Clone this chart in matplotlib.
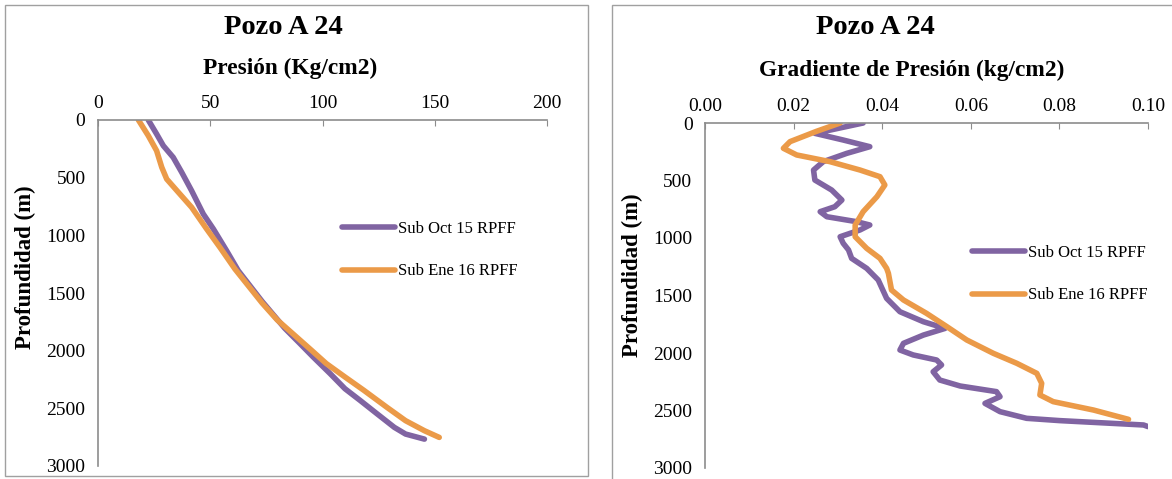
import matplotlib.pyplot as plt
from matplotlib.patches import Rectangle

# --- data ---
# left panel: pressure (kg/cm2) vs depth (m)
oct_depth = [0, 121, 223, 324, 454, 613, 815, 945, 1134, 1307, 1573, 1806, 1937,
             2054, 2199, 2330, 2432, 2549, 2665, 2723, 2767]
oct_pres = [22.4, 26.1, 29.1, 33.5, 37.3, 41.7, 46.9, 51.4, 57.3, 62.5, 73.1, 83.2,
            89.9, 95.8, 103.4, 110.0, 116.8, 124.4, 132.0, 137.0, 145.4]

ene_depth = [0, 136, 266, 410, 512, 627, 757, 945, 1104, 1292, 1587, 1733, 1850,
             1995, 2112, 2228, 2345, 2490, 2607, 2694, 2752]
ene_pres = [18.0, 22.4, 26.1, 28.4, 30.6, 35.8, 41.7, 48.4, 54.3, 61.0, 73.1, 79.8,
            86.6, 95.0, 101.7, 110.0, 118.5, 128.6, 137.0, 145.4, 152.0]

# right panel: pressure gradient (kg/cm2) vs depth (m)
oct_gdepth = [0, 90, 148, 206, 264, 336, 409, 496, 583, 670, 728, 771, 815, 858,
              887, 930, 989, 1046, 1104, 1177, 1264, 1365, 1525, 1641, 1728, 1786,
              1844, 1916, 1974, 2017, 2061, 2104, 2163, 2235, 2287, 2336, 2380,
              2438, 2510, 2568, 2588, 2626, 2640]
oct_grad = [0.0357, 0.0248, 0.0312, 0.0372, 0.0320, 0.0267, 0.0245, 0.0248,
            0.0286, 0.0309, 0.0293, 0.0260, 0.0275, 0.0342, 0.0372, 0.0350,
            0.0305, 0.0312, 0.0324, 0.0331, 0.0365, 0.0391, 0.0410, 0.0440,
            0.0493, 0.0542, 0.0493, 0.0448, 0.0440, 0.0470, 0.0523, 0.0534,
            0.0515, 0.0530, 0.0576, 0.0658, 0.0666, 0.0632, 0.0666, 0.0726,
            0.0801, 0.0990, 0.1000]

ene_gdepth = [0, 72, 162, 220, 278, 336, 409, 467, 539, 641, 771, 887, 989, 1090,
              1177, 1264, 1307, 1452, 1539, 1655, 1771, 1887, 2003, 2090, 2177,
              2264, 2365, 2423, 2496, 2577]
ene_grad = [0.0305, 0.0252, 0.0192, 0.0177, 0.0207, 0.0282, 0.0350, 0.0395,
            0.0406, 0.0388, 0.0357, 0.0339, 0.0339, 0.0365, 0.0395, 0.0410,
            0.0414, 0.0421, 0.0448, 0.0500, 0.0546, 0.0591, 0.0651, 0.0704,
            0.0749, 0.0760, 0.0756, 0.0786, 0.0877, 0.0956]

labels = ["Sub Oct 15 RPFF", "Sub Ene 16 RPFF"]
purple = "#8064A2"
orange = "#EB9A48"
grey = "#8C8C8C"

plt.rcParams['font.family'] = ['Liberation Serif', 'DejaVu Serif']

W, H = 1172, 479
fig = plt.figure(figsize=(W / 100, H / 100), dpi=100)


def px_box(x0, y0, x1, y1):
	# pixel box (top-left origin) -> figure fraction rect
	return [x0 / W, 1 - y1 / H, (x1 - x0) / W, (y1 - y0) / H]


def fig_text(x, y, s, **kw):
	fig.text(x / W, 1 - y / H, s, ha='center', va='center', fontweight='bold', **kw)


def style_axes(ax, xticks, xfmt):
	ax.set_ylim(3000, 0)
	ax.set_yticks(range(0, 3001, 500))
	ax.set_xticks(xticks)
	ax.set_xticklabels([xfmt.format(t) for t in xticks])
	ax.xaxis.tick_top()
	for s in ['right', 'bottom']:
		ax.spines[s].set_visible(False)
	for s in ['left', 'top']:
		ax.spines[s].set_color(grey)
		ax.spines[s].set_linewidth(1.2)
	ax.tick_params(axis='x', direction='in', length=4, color=grey, labelsize=14, pad=6)
	ax.tick_params(axis='y', length=0, labelsize=14, pad=9)


# panel borders
fig.patches.append(Rectangle((5 / W, 3 / H), 583 / W, 471 / H, transform=fig.transFigure,
                             fill=False, edgecolor='#A0A0A0', lw=1))
fig.patches.append(Rectangle((612 / W, -0.01), 0.5, 1 - 5 / H + 0.01, transform=fig.transFigure,
                             fill=False, edgecolor='#A0A0A0', lw=1))

leg_kw = dict(bbox_transform=fig.transFigure, loc='center left', frameon=False,
              fontsize=12, handlelength=3.2, handletextpad=0.15, labelspacing=1.6,
              borderpad=0, borderaxespad=0)
line_kw = dict(lw=4.0, solid_capstyle='round', solid_joinstyle='round')

# left panel
ax1 = fig.add_axes(px_box(98, 120, 547, 466))
ax1.plot(oct_pres, oct_depth, color=purple, label=labels[0], **line_kw)
ax1.plot(ene_pres, ene_depth, color=orange, label=labels[1], **line_kw)
ax1.set_xlim(0, 200)
style_axes(ax1, [0, 50, 100, 150, 200], "{:d}")
ax1.legend(bbox_to_anchor=(342 / W, 1 - 250 / H), **leg_kw)
fig_text(283, 27, "Pozo A 24", fontsize=20.5)
fig_text(290, 68, "Presión (Kg/cm2)", fontsize=16.8)
fig_text(25, 267, "Profundidad (m)", fontsize=16.5, rotation=90)

# right panel
ax2 = fig.add_axes(px_box(705, 123, 1148, 468))
ax2.plot(oct_grad, oct_gdepth, color=purple, label=labels[0], **line_kw)
ax2.plot(ene_grad, ene_gdepth, color=orange, label=labels[1], **line_kw)
ax2.set_xlim(0, 0.10)
style_axes(ax2, [0, 0.02, 0.04, 0.06, 0.08, 0.10], "{:.2f}")
ax2.legend(bbox_to_anchor=(972 / W, 1 - 274 / H), **leg_kw)
fig_text(875, 27, "Pozo A 24", fontsize=20.5)
fig_text(912, 70, "Gradiente de Presión (kg/cm2)", fontsize=16.8)
fig_text(632, 275, "Profundidad (m)", fontsize=16.5, rotation=90)

fig.savefig("out.png", dpi=100)
